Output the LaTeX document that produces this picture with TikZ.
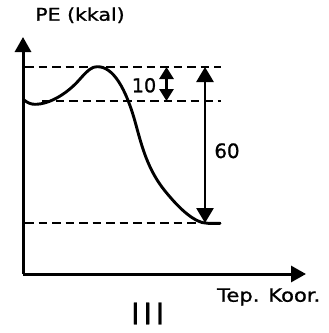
\documentclass[tikz,border=0pt]{standalone}
\usepackage{fontspec}
\setmainfont[FakeBold=1]{DejaVu Sans}
\usetikzlibrary{arrows.meta}
\tikzset{
  axis/.style={line width=3pt,-{Triangle[length=15pt,width=16pt]}},
  guide/.style={line width=1.8pt,dash pattern=on 8.5pt off 5pt},
  bigdim/.style={line width=2.8pt,{Triangle[length=15pt,width=17pt]}-{Triangle[length=15pt,width=17pt]}},
  smalldim/.style={line width=2.8pt,{Triangle[length=12pt,width=14pt]}-{Triangle[length=12pt,width=14pt]}},
  curve/.style={line width=2.9pt,line cap=round,line join=round},
  lbl/.style={inner sep=0pt,anchor=base},
}
\begin{document}
\begin{tikzpicture}[x=1pt,y=-1pt]
\useasboundingbox (0,0) rectangle (329,333);
% axes
\coordinate (O) at (23,274);
\coordinate (Ytip) at (23,37);
\coordinate (Xtip) at (306,274);
\draw[axis] (O) -- (Ytip);
\draw[axis] (O) -- (Xtip);
% guide lines
\coordinate (tL) at (25,67);  \coordinate (tR) at (221,67);
\coordinate (mL) at (42,101); \coordinate (mR) at (221,101);
\coordinate (bL) at (25,223); \coordinate (bR) at (221,223);
\draw[guide] (tL) -- (tR);
\draw[guide] (mL) -- (mR);
\draw[guide] (bL) -- (bR);
% energy curve
\coordinate (c0) at (24,100);
\coordinate (cmin) at (35,104.3);
\coordinate (c2) at (80,79);
\coordinate (cpeak) at (97,66.7);
\coordinate (c4) at (136,125);
\coordinate (c5) at (165,191);
\coordinate (c6) at (208,223.3);
\coordinate (cend) at (220,223.3);
\draw[curve] (c0) .. controls (28,103) and (31,104.3) .. (cmin)
  .. controls (50,104.3) and (68,93) .. (c2)
  .. controls (88,70) and (92,66.7) .. (cpeak)
  .. controls (113,66.2) and (126,88) .. (c4)
  .. controls (142,147) and (148,170) .. (c5)
  .. controls (180,209.5) and (195,223.3) .. (c6) -- (cend);
% dimension arrows
\coordinate (a1) at (166.5,67); \coordinate (a2) at (166.5,101);
\draw[smalldim] (a1) -- (a2);
\coordinate (b1) at (205,67); \coordinate (b2) at (205,223);
\draw[bigdim] (b1) -- (b2);
% labels
\node[lbl,font=\fontsize{17.5}{20}\selectfont] (pe) at (80,20.7) {\scalebox{1.17}[1]{PE (kkal)}};
\node[lbl,font=\fontsize{19.2}{20}\selectfont] (ten) at (144,92.3) {10};
\node[lbl,font=\fontsize{19.8}{20}\selectfont] (sixty) at (227,158) {60};
\node[lbl,font=\fontsize{18.3}{20}\selectfont] (tep) at (268.7,301.7) {\scalebox{1.15}[1]{Tep. Koor.}};
\node[lbl,font=\fontsize{29.6}{30}\selectfont] (num) at (147.7,324.3) {I\hspace{3.6pt}I\hspace{3.6pt}I};
\end{tikzpicture}
\end{document}
